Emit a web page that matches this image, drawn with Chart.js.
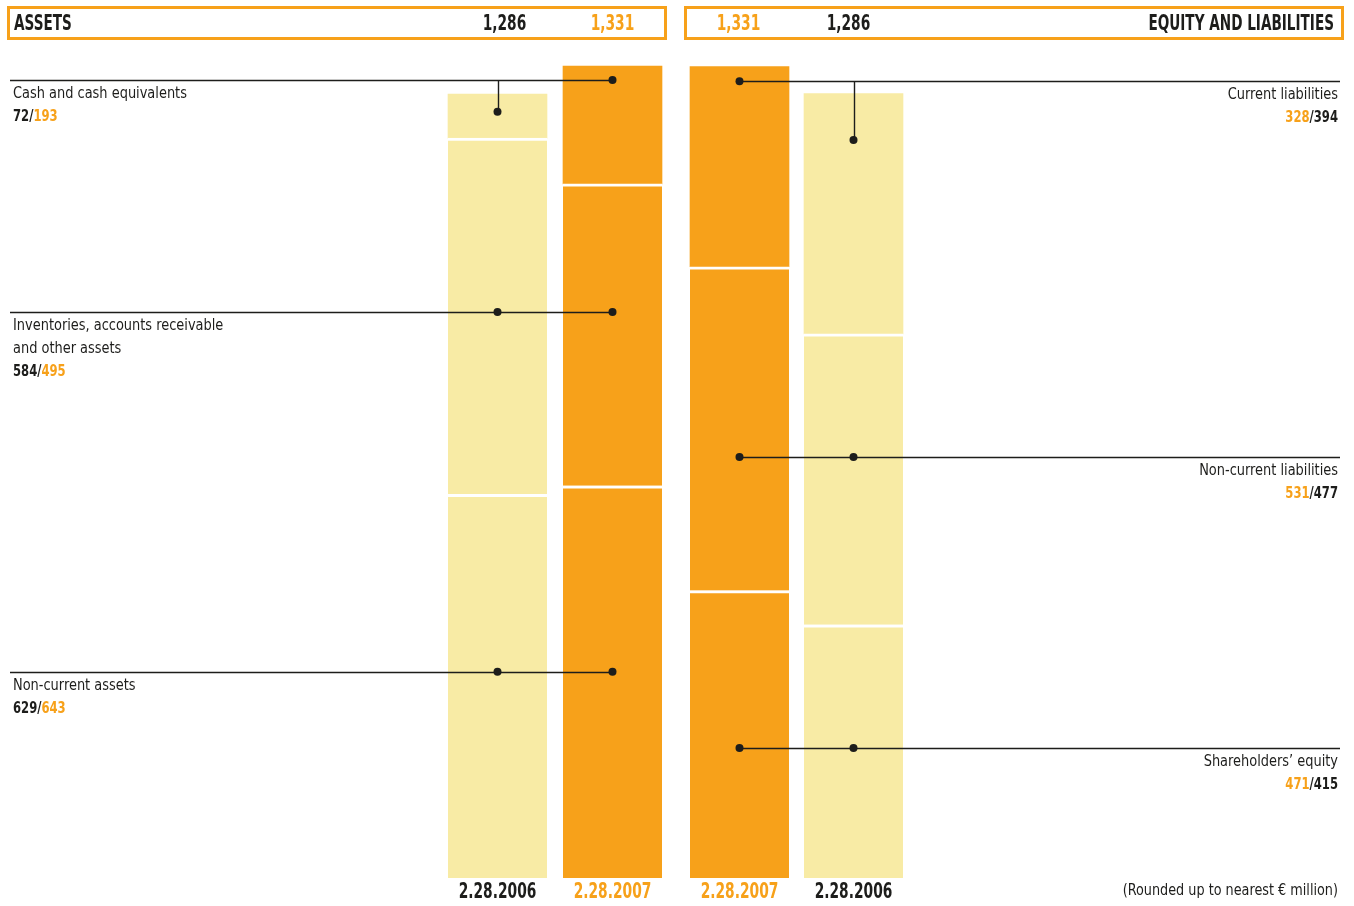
<!DOCTYPE html>
<html>
<head>
<meta charset="utf-8">
<script src="https://cdn.jsdelivr.net/npm/chart.js@4.4.1/dist/chart.umd.min.js"></script>
<style>
body { margin: 0; background: #fff; width: 1354px; height: 906px; overflow: hidden; position: relative; }
canvas { position: absolute; top: 0; }
#assetsChart { left: 0; }
#liabChart { left: 677px; }
</style>
</head>
<body>
<canvas id="assetsChart" width="677" height="906"></canvas>
<canvas id="liabChart" width="677" height="906"></canvas>
<script>
// € million
const assetDates = ['2.28.2006', '2.28.2007'];
const nonCurrentAssets = [629, 643];
const inventoriesOther = [584, 495];
const cashEquivalents = [72, 193];
const assetTotals = ['1,286', '1,331'];

const liabDates = ['2.28.2007', '2.28.2006'];
const shareholdersEquity = [471, 415];
const nonCurrentLiabilities = [531, 477];
const currentLiabilities = [328, 394];
const liabTotals = ['1,331', '1,286'];

// level of the callout dot on each bar (same units as the bars)
const cashDots = [1256, 1308];
const inventoryDots = [928, 928];
const nonCurrentAssetDots = [338, 338];
const currentLiabDots = [1306, 1210];
const nonCurrentLiabDots = [690, 690];
const equityDots = [213, 213];

const ORANGE = '#F7A11A';
const PALE = '#F8EBA5';
const INK = '#1d1d1b';
const FONT = "'DejaVu Sans Condensed', 'DejaVu Sans', sans-serif";

const colorFor = (d) => d.endsWith('2007') ? ORANGE : PALE;
const textColorFor = (d) => d.endsWith('2007') ? ORANGE : INK;

// the original uses a narrow face, so squeeze the text horizontally
const narrowText = (ctx, text, x, y, align, sx) => {
    ctx.save();
    ctx.translate(x, y);
    ctx.scale(sx, 1);
    ctx.textAlign = align;
    ctx.fillText(text, 0, 0);
    ctx.restore();
};

const segment = (label, data, dates, gapOnTop) => ({
    type: 'bar',
    label: label,
    data: data,
    backgroundColor: dates.map(colorFor),
    borderColor: '#fff',
    borderWidth: {top: gapOnTop ? 3 : 0, left: 0, right: 0, bottom: 0},
    borderSkipped: false,
    barThickness: 99,
    stack: 'balance',
    order: 1
});

const dots = (dates, levels) => ({
    type: 'line',
    label: 'callouts',
    data: levels.flatMap((lv) => lv.map((v, i) => ({x: dates[i], y: v}))),
    showLine: false,
    pointRadius: 4,
    pointBackgroundColor: INK,
    pointBorderWidth: 0,
    stack: 'callouts',
    order: 0
});

const drawValues = (ctx, dates, values, x, y, align) => {
    const sx = 0.86;
    ctx.font = 'bold 15px ' + FONT;
    const parts = [
        {t: String(values[0]), c: textColorFor(dates[0])},
        {t: '/', c: INK},
        {t: String(values[1]), c: textColorFor(dates[1])}
    ];
    const total = parts.reduce((s, p) => s + ctx.measureText(p.t).width * sx, 0);
    let cx = align === 'left' ? x : x - total;
    parts.forEach((p) => {
        ctx.fillStyle = p.c;
        narrowText(ctx, p.t, cx, y, 'left', sx);
        cx += ctx.measureText(p.t).width * sx;
    });
};

const balancePlugin = {
    id: 'balance',
    beforeDatasetDraw(chart, args, opts) {
        if (args.meta.type !== 'line') return;
        const {ctx} = chart;
        const xs = chart.scales.x, ys = chart.scales.y;
        const dates = chart.data.labels;
        const outer = dates.findIndex((d) => d.endsWith('2007'));
        const inner = 1 - outer;
        ctx.save();
        ctx.strokeStyle = INK;
        ctx.lineWidth = 1.4;
        ctx.textBaseline = 'middle';
        opts.callouts.forEach((c) => {
            const ly = Math.round(ys.getPixelForValue(c.dots[outer])) + 0.5;
            const ox = xs.getPixelForValue(outer);
            const ix = Math.round(xs.getPixelForValue(inner)) + 0.5;
            const iy = ys.getPixelForValue(c.dots[inner]);
            ctx.beginPath();
            ctx.moveTo(opts.edge, ly);
            ctx.lineTo(ox, ly);
            if (Math.abs(iy - ly) > 2) {
                ctx.moveTo(ix, ly);
                ctx.lineTo(ix, iy);
            }
            ctx.stroke();

            let ty = ly + 13.5;
            ctx.font = '16px ' + FONT;
            ctx.fillStyle = INK;
            c.name.forEach((line) => {
                narrowText(ctx, line, opts.textX, ty, opts.align, 0.9);
                ty += 23;
            });
            drawValues(ctx, dates, c.values, opts.textX, ty + 0.5, opts.align);
        });
        ctx.restore();
    },
    afterDraw(chart, args, opts) {
        const {ctx} = chart;
        const xs = chart.scales.x;
        const dates = chart.data.labels;
        ctx.save();
        ctx.strokeStyle = ORANGE;
        ctx.lineWidth = 3;
        ctx.strokeRect(8.5, 7.5, 657, 31);
        ctx.textBaseline = 'middle';
        ctx.font = 'bold 21px ' + FONT;
        ctx.fillStyle = INK;
        narrowText(ctx, opts.title, opts.titleX, 25, opts.align, 0.72);
        opts.totals.forEach((t, i) => {
            ctx.fillStyle = textColorFor(dates[i]);
            narrowText(ctx, t, xs.getPixelForValue(i) + opts.totalShift[i], 25, 'center', 0.73);
        });
        // category labels under the bars
        dates.forEach((d, i) => {
            ctx.fillStyle = textColorFor(d);
            narrowText(ctx, d, xs.getPixelForValue(i), 893, 'center', 0.73);
        });
        if (opts.note) {
            ctx.font = '15px ' + FONT;
            ctx.fillStyle = INK;
            narrowText(ctx, opts.note, opts.textX, 891, 'right', 0.95);
        }
        ctx.restore();
    }
};

const makeChart = (id, dates, datasets, padding, plugOpts) => new Chart(document.getElementById(id), {
    data: {labels: dates, datasets: datasets},
    options: {
        responsive: false,
        animation: false,
        devicePixelRatio: 1,
        layout: {padding: padding},
        scales: {
            x: {
                grid: {display: false, drawTicks: false},
                border: {display: false},
                ticks: {display: false},
                afterFit: (s) => { s.height = 28; }
            },
            y: {display: false, stacked: true, min: 0, max: 1400}
        },
        plugins: {
            legend: {display: false},
            tooltip: {enabled: false},
            balance: plugOpts
        }
    },
    plugins: [balancePlugin]
});

makeChart('assetsChart', assetDates, [
    segment('Non-current assets', nonCurrentAssets, assetDates, true),
    segment('Inventories, accounts receivable and other assets', inventoriesOther, assetDates, true),
    segment('Cash and cash equivalents', cashEquivalents, assetDates, false),
    dots(assetDates, [cashDots, inventoryDots, nonCurrentAssetDots])
], {top: 24, bottom: 0, left: 440, right: 7}, {
    align: 'left', textX: 13, edge: 10,
    title: 'ASSETS', titleX: 14, totals: assetTotals, totalShift: [7, 0],
    callouts: [
        {name: ['Cash and cash equivalents'], values: cashEquivalents, dots: cashDots},
        {name: ['Inventories, accounts receivable', 'and other assets'], values: inventoriesOther, dots: inventoryDots},
        {name: ['Non-current assets'], values: nonCurrentAssets, dots: nonCurrentAssetDots}
    ]
});

makeChart('liabChart', liabDates, [
    segment("Shareholders' equity", shareholdersEquity, liabDates, true),
    segment('Non-current liabilities', nonCurrentLiabilities, liabDates, true),
    segment('Current liabilities', currentLiabilities, liabDates, false),
    dots(liabDates, [currentLiabDots, nonCurrentLiabDots, equityDots])
], {top: 24, bottom: 0, left: 5.5, right: 443.5}, {
    align: 'right', textX: 661, edge: 663,
    title: 'EQUITY AND LIABILITIES', titleX: 657, totals: liabTotals, totalShift: [-1, -5],
    note: '(Rounded up to nearest \u20ac million)',
    callouts: [
        {name: ['Current liabilities'], values: currentLiabilities, dots: currentLiabDots},
        {name: ['Non-current liabilities'], values: nonCurrentLiabilities, dots: nonCurrentLiabDots},
        {name: ['Shareholders\u2019 equity'], values: shareholdersEquity, dots: equityDots}
    ]
});
</script>
</body>
</html>
